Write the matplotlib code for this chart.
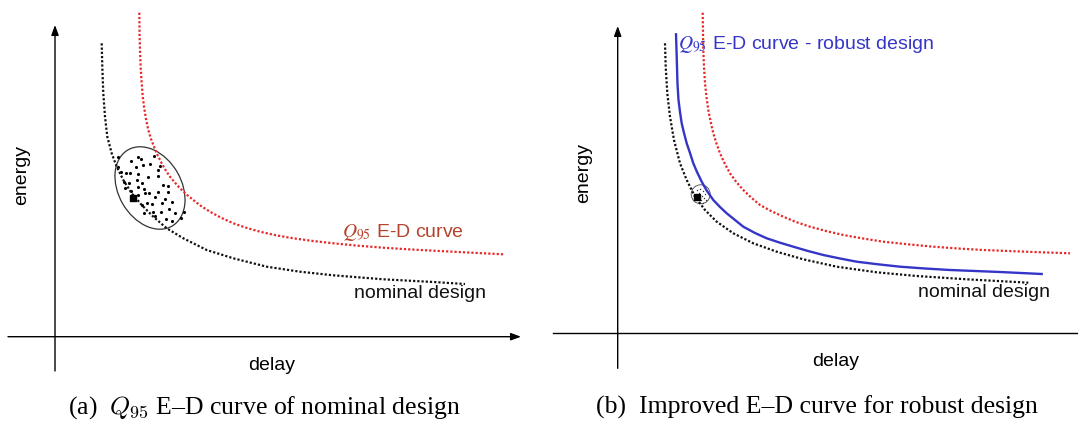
import matplotlib
matplotlib.use("Agg")
import matplotlib.pyplot as plt
from matplotlib.patches import Ellipse

# everything is laid out in picture pixels (x right, y down)

# panel (a) curves
nom_a_x = [101.7, 102.3, 103.3, 105, 107.3, 111.7, 116.7, 123.3, 131.7, 141.7, 153.3,
           166.7, 183.3, 206.7, 233.3, 266.7, 300, 333.3, 383.3, 433.3, 465]
nom_a_y = [43.3, 66.7, 93.3, 116.7, 136.7, 153.3, 166.7, 180, 193.3, 205, 216.7,
           228.3, 238.3, 250, 258.3, 266.7, 271.7, 275.3, 279.3, 282, 284]
q95_a_x = [139.3, 139.6, 140, 140.7, 141.7, 142.7, 144, 146, 148.3, 151, 154, 157.5,
           161.7, 165.5, 170, 175, 180, 186.5, 193.3, 201, 210, 221, 233.3, 246, 260,
           276, 293.3, 313, 333.3, 358, 383.3, 408, 433.3, 468, 503.3]
q95_a_y = [12.7, 35, 50, 68, 83.3, 96, 106.7, 119, 130, 139, 146.7, 155, 163.3, 170,
           176.7, 182.7, 188.3, 194.5, 200, 206, 211.7, 217.7, 223.3, 227.7, 231.7,
           235.3, 238.3, 241, 243.3, 245.7, 247.7, 249.3, 250.7, 252.5, 254.3]

# monte carlo samples around the nominal point (a)
mc_x = [117.7, 131, 138.3, 141, 154.3, 135.7, 143.3, 150, 160, 158.3, 121, 125.7,
        130, 138.3, 148.3, 157.7, 118.3, 136.7, 142.3, 124.3, 129, 163.3, 167.7, 125,
        131, 144.3, 149, 158.3, 168.3, 138.3, 145, 155, 165, 162.3, 171.7, 151.7,
        141.7, 153.3, 161, 169, 175, 144.3, 155, 165.7, 181, 183.7, 171.7, 146.7, 138.3]
mc_y = [157.3, 161, 156.7, 159, 155.7, 166.7, 165, 164, 166, 170, 171.7, 173.3,
        173.3, 174, 176.7, 176, 166.7, 180, 182.7, 181.7, 182.7, 185, 185.7, 188.3,
        190.7, 189.3, 192.7, 191.7, 192.3, 195, 193.3, 197.3, 199.3, 202.7, 201.7, 204,
        205, 211.7, 211.7, 209.3, 212.7, 213.3, 216, 218.7, 218.3, 211.7, 220.7, 203.3, 186.7]

# panel (b) curves
nom_b_x = [665, 665.7, 667.3, 670, 674, 680, 686.7, 695, 705, 716.7, 733.3, 753.3,
           776.7, 803.3, 836.7, 876.7, 916.7, 966.7, 1028.3]
nom_b_y = [43.3, 66.7, 93.3, 116.7, 140, 163.3, 180, 196.7, 210, 221.7, 233.3, 243.3,
           251.7, 259.3, 266.7, 272.3, 276, 279.3, 282.7]
rob_b_x = [676, 676.5, 677, 677.5, 678.5, 680, 681.7, 684, 686.7, 690, 693.3, 697,
           701.7, 707, 713.3, 720, 726.7, 735, 743.3, 755, 766.7, 780, 793.3, 808,
           823.3, 840, 856.7, 878, 900, 925, 950, 975, 1000, 1041.7]
rob_b_y = [34.3, 50, 67, 84, 100, 112, 123.3, 133, 143.3, 153, 163.3, 172, 181.7,
           191, 200, 207, 213.3, 220, 226.7, 233, 238.3, 242.7, 246.7, 251, 255,
           258.5, 261.7, 264.3, 266.7, 268.5, 270, 271, 272, 274]
q95_b_x = [702.7, 703, 703.3, 704, 705, 706.5, 708.3, 710.7, 713.3, 716.5, 720, 724.7,
           730, 736.3, 743.3, 751.3, 760, 771, 783.3, 796, 810, 826, 843.3, 863,
           883.3, 908, 933.3, 958, 983.3, 1033.3, 1070]
q95_b_y = [12.7, 32, 50, 67, 83.3, 97, 110, 122, 133.3, 143.5, 153.3, 163.5, 173.3,
           182, 190, 197.7, 205, 211, 216.7, 222, 226.7, 231, 235, 238.5, 241.7,
           244.3, 246.7, 248.5, 250, 252, 253.3]
mc_b_x = [697, 700, 703, 705, 702, 704, 706, 699, 701, 703]
mc_b_y = [190, 189, 191, 194, 196, 198, 200, 193, 200, 203]

RED = "#e62a2a"
BLUE = "#3535c8"
DOT = (0, (1, 0.9))

plt.rcParams["font.family"] = ["Liberation Sans", "DejaVu Sans"]

fig = plt.figure(figsize=(10.78, 4.24), dpi=100)
ax = fig.add_axes([0, 0, 1, 1])
ax.set_xlim(0, 1078)
ax.set_ylim(424, 0)
ax.axis("off")

arrow = dict(arrowstyle="-|>,head_length=0.6,head_width=0.22", lw=1.0, color="black",
             shrinkA=0, shrinkB=0)

# ---- panel (a)
ax.annotate("", xy=(55, 25), xytext=(55, 371), arrowprops=arrow)
ax.annotate("", xy=(521, 336.7), xytext=(8, 336.7), arrowprops=arrow)
ax.plot(nom_a_x, nom_a_y, color="#111111", lw=1.6, ls=DOT)
ax.plot(q95_a_x, q95_a_y, color=RED, lw=1.6, ls=DOT)
ax.add_patch(Ellipse((150, 188), 88, 63, angle=60, fill=False, lw=0.9, ec="#333333"))
ax.scatter(mc_x, mc_y, s=5, color="black", lw=0)
ax.plot([133.3], [198.3], marker="s", ms=5, color="black")

ax.text(341.7, 236.7, r"$\mathit{Q}_{\mathit{95}}$ E-D curve", color="#b5442c",
        fontsize=14, ha="left", va="baseline", math_fontfamily="stix")
ax.text(354, 298.3, "nominal design", color="#111111", fontsize=14, ha="left", va="baseline")
ax.text(21.5, 175, "energy", fontsize=14, rotation=90, ha="center", va="center")
ax.text(271.7, 370, "delay", fontsize=14, ha="center", va="baseline")

# ---- panel (b)
ax.annotate("", xy=(617.7, 26), xytext=(617.7, 368.3), arrowprops=arrow)
ax.plot([552.7, 1078], [333.3, 333.3], color="black", lw=1.0)
ax.plot(nom_b_x, nom_b_y, color="#111111", lw=1.6, ls=DOT)
ax.plot(q95_b_x, q95_b_y, color=RED, lw=1.6, ls=DOT)
ax.plot(rob_b_x, rob_b_y, color=BLUE, lw=1.7)
ax.add_patch(Ellipse((700.7, 194.3), 19, 19, fill=False, lw=0.6, ec="#444444"))
ax.scatter(mc_b_x, mc_b_y, s=1, color="#333333", lw=0)
ax.plot([696.7], [197.3], marker="s", ms=5, color="black")

ax.text(678.3, 49.3, r"$\mathit{Q}_{\mathit{95}}$ E-D curve - robust design", color=BLUE,
        fontsize=14, ha="left", va="baseline", math_fontfamily="stix")
ax.text(918.3, 296.7, "nominal design", color="#111111", fontsize=14, ha="left", va="baseline")
ax.text(584, 173.3, "energy", fontsize=14, rotation=90, ha="center", va="center")
ax.text(835.8, 366.5, "delay", fontsize=14, ha="center", va="baseline")

# ---- captions
cap = dict(fontsize=18.5, ha="center", va="baseline", family=["Liberation Serif", "DejaVu Serif"],
           math_fontfamily="cm")
ax.text(264, 414, r"(a)  $Q_{95}$ E–D curve of nominal design", **cap)
ax.text(816.5, 414, "(b)  Improved E–D curve for robust design", **cap)

fig.savefig("out.png", dpi=100)
